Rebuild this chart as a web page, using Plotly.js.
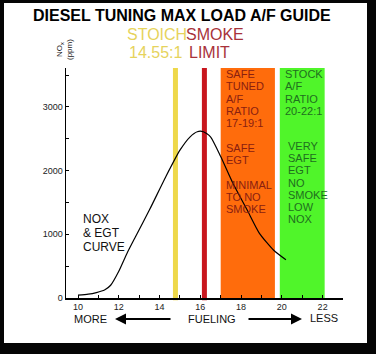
<!DOCTYPE html>
<html>
<head>
<meta charset="utf-8">
<script src="https://cdn.plot.ly/plotly-3.0.1.min.js"></script>
<style>html,body{margin:0;padding:0;background:#000;}#chart{width:376px;height:354px;}</style>
</head>
<body>
<div id="chart"></div>
<script>
// ---- data ----
const afr = [10.0, 10.5, 10.9, 11.3, 11.6, 12.0, 12.4, 12.8, 13.5, 14.3, 15.0, 15.5, 15.85, 16.15, 16.5, 17.0, 17.6, 18.3, 18.9, 19.6, 20.2];
const nox = [45, 60, 85, 125, 200, 420, 700, 950, 1380, 1900, 2320, 2530, 2610, 2610, 2530, 2220, 1800, 1380, 1015, 750, 600];
const stoichAFR = 14.78;
const smokeAFR = 16.2;
const tunedZone = [17.0, 19.66];
const stockZone = [19.9, 22.1];
const xTicks = [10, 12, 14, 16, 18, 20, 22];
const yTicks = [0, 1000, 2000, 3000];
const orangeLines = ['SAFE','TUNED','A/F','RATIO','17-19:1','','SAFE','EGT','','MINIMAL','TO NO','SMOKE'];
const greenTop = ['STOCK','A/F','RATIO','20-22:1'];
const greenBottom = ['VERY','SAFE','EGT','NO','SMOKE','LOW','NOX'];
const curveLabel = ['NOX','& EGT','CURVE'];

// ---- layout helpers ----
const L = 66, R = 343, T = 68, B = 298, W = 376, H = 354;
const px = x => (x - L) / (R - L);
const py = y => (B - y) / (B - T);
const FONT = 'Liberation Sans, Arial, sans-serif';

const ann = [];
function txt(text, x, y, size, color, xanchor, extra) {
  ann.push(Object.assign({text: text, xref: 'paper', yref: 'paper', x: px(x), y: py(y),
    xanchor: xanchor || 'left', yanchor: 'middle', showarrow: false,
    font: {family: FONT, size: size, color: color}}, extra || {}));
}
txt('<b>DIESEL TUNING MAX LOAD A/F GUIDE</b>', 181.5, 15, 16, '#000', 'center');
txt('STOICH', 125, 35, 16, '#e6d35c');
txt('SMOKE', 184, 35, 16, '#a8323a');
txt('14.55:1', 127, 53, 16, '#e6d35c');
txt('LIMIT', 187, 53, 16, '#a8323a');
txt('NO<sub>x</sub><br>(ppm)', 64, 50, 8, '#222', 'center', {textangle: -90});
orangeLines.forEach((s, i) => { if (s) txt(s, 224, 74 + i * 12.3, 11, '#8a2010'); });
greenTop.forEach((s, i) => txt(s, 283, 74 + i * 12.3, 11, '#1f6e1f'));
greenBottom.forEach((s, i) => txt(s, 286, 146 + i * 12.2, 11, '#1f6e1f'));
curveLabel.forEach((s, i) => txt(s, 81, 219 + i * 14, 12, '#111'));
txt('MORE', 72, 319, 11, '#111');
txt('FUELING', 186, 319, 11, '#111');
txt('LESS', 308, 318, 11, '#111');
ann.push({xref: 'paper', yref: 'paper', x: px(115), y: py(319), ax: 57, ay: 0, text: '',
  showarrow: true, arrowhead: 2, arrowsize: 1.1, arrowwidth: 2, arrowcolor: '#000'});
ann.push({xref: 'paper', yref: 'paper', x: px(302), y: py(319), ax: -55, ay: 0, text: '',
  showarrow: true, arrowhead: 2, arrowsize: 1.1, arrowwidth: 2, arrowcolor: '#000'});

const shapes = [
  // white card inside black frame
  {type: 'rect', xref: 'paper', yref: 'paper', layer: 'below',
   x0: px(4), x1: px(367), y0: py(343), y1: py(3), fillcolor: '#fff', line: {width: 0}},
  {type: 'rect', xref: 'x', yref: 'paper', layer: 'below', x0: tunedZone[0], x1: tunedZone[1], y0: 0, y1: 1,
   fillcolor: '#ff6c0c', line: {width: 0}},
  {type: 'rect', xref: 'x', yref: 'paper', layer: 'below', x0: stockZone[0], x1: stockZone[1], y0: 0, y1: 1,
   fillcolor: '#50f52a', line: {width: 0}},
  {type: 'line', xref: 'x', yref: 'paper', layer: 'below', x0: stoichAFR, x1: stoichAFR, y0: -0.01, y1: 1,
   line: {color: '#eed84a', width: 5}},
  {type: 'line', xref: 'x', yref: 'paper', layer: 'below', x0: smokeAFR, x1: smokeAFR, y0: -0.01, y1: 1,
   line: {color: '#c8161e', width: 5}}
];

const trace = {x: afr, y: nox, type: 'scatter', mode: 'lines',
  line: {color: '#000', width: 1.2, shape: 'spline', smoothing: 0.6}, hoverinfo: 'skip'};

const layout = {
  width: W, height: H,
  margin: {l: L, r: W - R, t: T, b: H - B, pad: 0},
  paper_bgcolor: '#050505', plot_bgcolor: 'rgba(0,0,0,0)',
  showlegend: false,
  xaxis: {range: [9.41, 23.0], tickvals: xTicks, ticks: 'inside', ticklen: 3, tickcolor: '#000',
    showline: true, linecolor: '#000', linewidth: 1.5, showgrid: false, zeroline: false,
    tickfont: {family: FONT, size: 9, color: '#222'},
    minor: {dtick: 1, tick0: 10, ticks: 'inside', ticklen: 3, tickcolor: '#000', showgrid: false}},
  yaxis: {range: [0, 3610], tickvals: yTicks, ticks: 'inside', ticklen: 3, tickcolor: '#000',
    showline: true, linecolor: '#000', linewidth: 1.5, showgrid: false, zeroline: false,
    tickfont: {family: FONT, size: 9, color: '#222'},
    minor: {dtick: 500, tick0: 0, ticks: 'inside', ticklen: 3, tickcolor: '#000', showgrid: false}},
  shapes: shapes,
  annotations: ann
};

Plotly.newPlot('chart', [trace], layout, {displayModeBar: false, staticPlot: true});
</script>
</body>
</html>
